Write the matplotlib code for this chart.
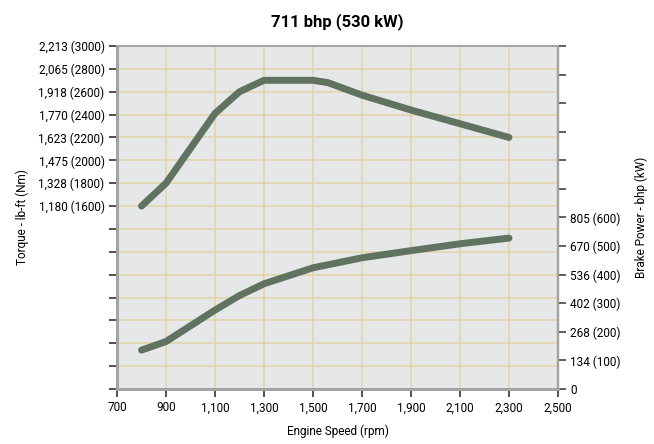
import matplotlib
matplotlib.use('Agg')
import matplotlib.pyplot as plt

plt.rcParams['font.family'] = ['Roboto', 'DejaVu Sans']

rpm = [800, 900, 1100, 1200, 1300, 1500, 1560, 1700, 1900, 2100, 2300]
torque_nm = [1600, 1800, 2410, 2600, 2700, 2700, 2680, 2570, 2440, 2320, 2200]
power_rpm = [800, 900, 1100, 1200, 1300, 1500, 1700, 1900, 2100, 2300]
power_kw = [136, 166, 276, 327, 368, 424, 459, 484, 508, 528]

x_ticks = [700, 900, 1100, 1300, 1500, 1700, 1900, 2100, 2300, 2500]
x_labels = ['700', '900', '1,100', '1,300', '1,500', '1,700', '1,900', '2,100', '2,300', '2,500']
torque_ticks = list(range(0, 3001, 200))
torque_labels = {1600: '1,180 (1600)', 1800: '1,328 (1800)', 2000: '1,475 (2000)',
                 2200: '1,623 (2200)', 2400: '1,770 (2400)', 2600: '1,918 (2600)',
                 2800: '2,065 (2800)', 3000: '2,213 (3000)'}
power_ticks = list(range(0, 1201, 100))
power_labels = {0: '0', 100: '134 (100)', 200: '268 (200)', 300: '402 (300)',
                400: '536 (400)', 500: '670 (500)', 600: '805 (600)'}

line_col = '#607360'
grid_col = '#e3d4a4'
spine_col = '#a3a3a3'

fig = plt.figure(figsize=(6.54, 4.44), dpi=100)
ax = fig.add_axes([0.1789, 0.1239, 0.6743, 0.7725])
ax.set_facecolor('#e6e7e9')
ax2 = ax.twinx()

ax.plot(rpm, torque_nm, color=line_col, lw=5, solid_capstyle='round', solid_joinstyle='round', zorder=5)
ax2.plot(power_rpm, power_kw, color=line_col, lw=5, solid_capstyle='round', solid_joinstyle='round', zorder=5)

ax.set_xlim(700, 2500)
ax.set_ylim(0, 3000)
ax2.set_ylim(0, 1200)
ax.set_xticks(x_ticks)
ax.set_xticklabels(x_labels)
ax.set_yticks(torque_ticks)
ax.set_yticklabels([torque_labels.get(t, '') for t in torque_ticks])
ax2.set_yticks(power_ticks)
ax2.set_yticklabels([power_labels.get(t, '') for t in power_ticks])

ax.grid(True, color=grid_col, lw=1.1, zorder=0)
ax.set_axisbelow(True)

for a in (ax, ax2):
    for s in a.spines.values():
        s.set_color(spine_col)
    a.spines['left'].set_linewidth(2)
    a.spines['bottom'].set_linewidth(2)
    a.spines['right'].set_linewidth(1.6)
    a.spines['top'].set_linewidth(1.2)

ax.tick_params(axis='both', direction='out', length=6, width=1.1, color='#222222',
               labelsize=8.5, pad=3)
ax2.tick_params(axis='y', direction='out', length=6, width=1.1, color='#333333',
                labelsize=8.5, pad=3)

ax.set_xlabel('Engine Speed (rpm)', fontsize=8.5, labelpad=7)
ax.set_ylabel('Torque - lb-ft (Nm)', fontsize=8.5, labelpad=7)
ax2.set_ylabel('Brake Power - bhp (kW)', fontsize=8.5, labelpad=10)
ax.set_title('711 bhp (530 kW)', fontsize=12, fontweight='bold', pad=14)

fig.savefig('out.png', dpi=100)
